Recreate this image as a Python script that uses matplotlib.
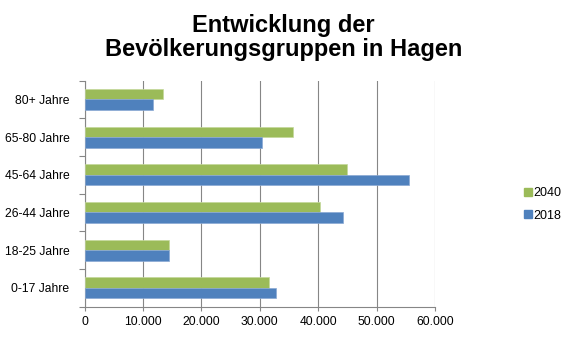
import numpy as np
import matplotlib.pyplot as plt
from matplotlib.lines import Line2D

plt.rcParams['font.family'] = ['Liberation Sans', 'DejaVu Sans']

categories = ['0-17 Jahre', '18-25 Jahre', '26-44 Jahre', '45-64 Jahre', '65-80 Jahre', '80+ Jahre']
values_2018 = [32700, 14500, 44200, 55500, 30300, 11700]
values_2040 = [31500, 14400, 40300, 44900, 35700, 13400]
xticks = [0, 10000, 20000, 30000, 40000, 50000, 60000]
xtick_labels = ['0', '10.000', '20.000', '30.000', '40.000', '50.000', '60.000']

GREEN = '#9BBB59'
BLUE = '#4F81BD'
GRID = '#868686'

fig = plt.figure(figsize=(5.67, 3.38), dpi=100)
ax = fig.add_axes([0.1494, 0.0926, 0.767 - 0.1494, 0.7615 - 0.0926])

y = np.arange(len(categories))
h = 0.28
ax.barh(y + h / 2, values_2040, height=h, color=GREEN, edgecolor='#c4d99b', linewidth=0.5, zorder=3)
ax.barh(y - h / 2, values_2018, height=h, color=BLUE, edgecolor='#8aa9d3', linewidth=0.5, zorder=3)

ax.set_xlim(0, 60000)
ax.set_ylim(-0.5, len(categories) - 0.5)
ax.set_xticks(xticks)
ax.set_xticklabels(xtick_labels, fontsize=8.7)
ax.set_yticks(y)
ax.set_yticklabels(categories, fontsize=8.7)
ax.tick_params(axis='y', length=0, pad=11)
ax.set_yticks(np.arange(-0.5, len(categories)), minor=True)
ax.tick_params(axis='y', which='minor', length=4, color=GRID, width=0.8)
ax.tick_params(axis='x', length=3, color=GRID, width=0.8, pad=4)

ax.grid(axis='x', color=GRID, linewidth=0.8, zorder=0)
for s in ['top', 'right']:
    ax.spines[s].set_visible(False)
for s in ['left', 'bottom']:
    ax.spines[s].set_color(GRID)
    ax.spines[s].set_linewidth(0.8)

fig.suptitle('Entwicklung der\nBevölkerungsgruppen in Hagen', x=0.5, y=0.96,
             fontsize=17, fontweight='bold', linespacing=1.1)

handles = [Line2D([], [], marker='s', linestyle='none', color=GREEN, markersize=5.5),
           Line2D([], [], marker='s', linestyle='none', color=BLUE, markersize=5.5)]
fig.legend(handles, ['2040', '2018'], loc='center left', bbox_to_anchor=(0.922, 0.395),
           frameon=False, fontsize=9, handletextpad=0.05, labelspacing=0.85,
           handlelength=0.8, borderaxespad=0, borderpad=0)

fig.savefig('out.png', dpi=100)
